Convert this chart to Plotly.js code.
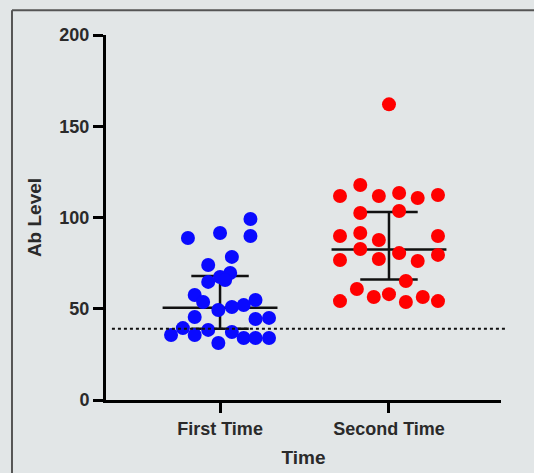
<!DOCTYPE html>
<html>
<head>
<meta charset="utf-8">
<script src="https://cdn.plot.ly/plotly-3.0.1.min.js"></script>
<style>html,body{margin:0;padding:0;background:#e2e6e7;}</style>
</head>
<body>
<div id="chart" style="width:534px;height:473px;"></div>
<script>
// ---- data ----
const categories = ['First Time', 'Second Time'];
const firstTime = [99.2, 89.9, 88.8, 91.5, 78.4, 74, 69.6, 67.4, 64.7, 65.7, 57.5, 53.7, 54.8, 52, 51, 49.3,
  45.5, 44.4, 45, 35.6, 39.4, 35.6, 38.4, 31.2, 37.3, 34, 34, 34];
const firstJitter = [0.18, 0.18, -0.19, 0.0, 0.07, -0.07, 0.06, 0.0, -0.07, 0.03, -0.15, -0.10, 0.21, 0.14, 0.07, -0.01,
  -0.15, 0.21, 0.29, -0.29, -0.22, -0.15, -0.07, -0.01, 0.07, 0.14, 0.21, 0.29];
const secondTime = [162, 117.8, 111.8, 111.8, 113.4, 110.7, 112.3, 102.5, 103.6, 89.9, 91.5, 87.7, 89.9,
  82.7, 80.5, 76.7, 77.3, 76.2, 79.5, 65.2, 60.8, 54.2, 56.4, 58, 53.7, 56.4, 54.2];
const secondJitter = [0.0, -0.17, -0.29, -0.06, 0.06, 0.17, 0.29, -0.17, 0.06, -0.29, -0.17, -0.06, 0.29,
  -0.17, 0.06, -0.29, -0.06, 0.17, 0.29, 0.10, -0.19, -0.29, -0.09, 0.0, 0.10, 0.20, 0.29];
const medians = [50.5, 82.5];
const q1s = [39, 66];
const q3s = [68, 103];
const threshold = 39;
const yTicks = [0, 50, 100, 150, 200];

// ---- build traces ----
const groups = [firstTime, secondTime];
const jitters = [firstJitter, secondJitter];
const colors = ['#0a0aff', '#ff0000'];
const medHalf = 0.34, capHalf = 0.17;

const lx = [], ly = [];
categories.forEach((c, i) => {
  lx.push(i - medHalf, i + medHalf, null); ly.push(medians[i], medians[i], null);
  lx.push(i, i, null); ly.push(q1s[i], q3s[i], null);
  lx.push(i - capHalf, i + capHalf, null); ly.push(q1s[i], q1s[i], null);
  lx.push(i - capHalf, i + capHalf, null); ly.push(q3s[i], q3s[i], null);
});

const traces = [{
  x: lx, y: ly, mode: 'lines', type: 'scatter', hoverinfo: 'skip',
  line: {color: '#111', width: 2.5}, connectgaps: false, showlegend: false
}];
groups.forEach((vals, i) => {
  traces.push({
    x: vals.map((v, k) => i + jitters[i][k]), y: vals,
    mode: 'markers', type: 'scatter', name: categories[i], showlegend: false,
    marker: {color: colors[i], size: 14, symbol: 'circle', line: {width: 0}}
  });
});

const fam = 'Liberation Sans, Arial, sans-serif';
const txt = '#2a2a2a';

const layout = {
  width: 534, height: 473,
  paper_bgcolor: '#e2e6e7', plot_bgcolor: '#e2e6e7',
  margin: {l: 106, r: 33, t: 35, b: 73},
  font: {family: fam, color: txt, size: 18, weight: 'bold'},
  xaxis: {
    type: 'linear', range: [-0.675, 1.663], tickvals: categories.map((c, i) => i), ticktext: categories,
    showgrid: false, zeroline: false, showline: true, linecolor: '#000', linewidth: 3,
    ticks: 'outside', ticklen: 10, tickwidth: 3, tickcolor: '#000',
    tickfont: {family: fam, size: 18, color: txt, weight: 'bold'},
    title: {text: 'Time', font: {family: fam, size: 19, color: txt, weight: 'bold'}, standoff: 14}
  },
  yaxis: {
    range: [0, 200], tickvals: yTicks, showgrid: false, zeroline: false,
    showline: true, linecolor: '#000', linewidth: 3,
    ticks: 'outside', ticklen: 10, tickwidth: 3, tickcolor: '#000',
    tickfont: {family: fam, size: 18, color: txt, weight: 'bold'},
    title: {text: 'Ab Level', font: {family: fam, size: 19, color: txt, weight: 'bold'}, standoff: 13}
  },
  shapes: [
    {type: 'line', xref: 'paper', yref: 'y', x0: 0.015, x1: 1.01, y0: threshold, y1: threshold,
      line: {color: '#111', width: 2, dash: 'dot'}},
    {type: 'line', xref: 'paper', yref: 'paper', x0: -0.238, x1: 1.2, y0: 1.068, y1: 1.068,
      line: {color: '#555', width: 2}},
    {type: 'line', xref: 'paper', yref: 'paper', x0: -0.238, x1: -0.238, y0: 1.068, y1: -0.3,
      line: {color: '#555', width: 2}}
  ]
};

Plotly.newPlot('chart', traces, layout, {displayModeBar: false, staticPlot: true});
</script>
</body>
</html>
